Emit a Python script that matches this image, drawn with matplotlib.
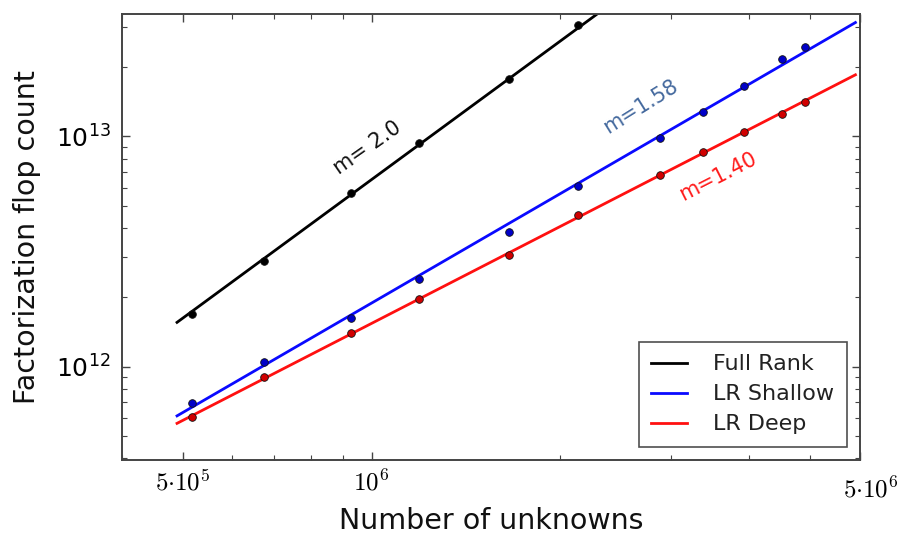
import numpy as np
import matplotlib
matplotlib.use("Agg")
import matplotlib.pyplot as plt
from matplotlib.ticker import FixedLocator, LogLocator, NullFormatter

# ---- data ----
n_full = [5.17e5, 6.75e5, 9.28e5, 1.189e6, 1.655e6, 2.135e6]
flops_full = [1.694e12, 2.870e12, 5.666e12, 9.343e12, 1.769e13, 3.051e13]

n_lr = [5.17e5, 6.75e5, 9.28e5, 1.189e6, 1.655e6, 2.135e6,
        2.886e6, 3.374e6, 3.915e6, 4.506e6, 4.911e6]
flops_shallow = [6.98e11, 1.051e12, 1.633e12, 2.404e12, 3.836e12, 6.113e12,
                 9.82e12, 1.281e13, 1.662e13, 2.171e13, 2.455e13]
flops_deep = [6.06e11, 9.0e11, 1.397e12, 1.969e12, 3.056e12, 4.56e12,
              6.80e12, 8.59e12, 1.049e13, 1.249e13, 1.416e13]

slopes = [2.0, 1.58, 1.40]
series_names = ["Full Rank", "LR Shallow", "LR Deep"]
slope_labels = ["m= 2.0", "m=1.58", "m=1.40"]
fit_range = [4.9e5, 5.9e6]

xtick_vals = [5e5, 1e6, 6e6]
xtick_labels = [r"$5{\cdot}10^{5}$", r"$10^{6}$", r"$5{\cdot}10^{6}$"]

# ---- figure ----
W, H = 904, 535
fig = plt.figure(figsize=(W / 100, H / 100), dpi=100)
ax = fig.add_axes([121.7 / W, 1 - 460 / H, (860 - 121.7) / W, (460 - 14) / H])
ax.set_xscale("log")
ax.set_yscale("log")

colors = ["#000000", "#0a0aff", "#ff1010"]
mcolors = ["#000000", "#0000c8", "#d00000"]
datasets = [(n_full, flops_full), (n_lr, flops_shallow), (n_lr, flops_deep)]

xf = np.logspace(np.log10(fit_range[0]), np.log10(fit_range[1]), 50)
for (x, y), m, c, mc, name in zip(datasets, slopes, colors, mcolors, series_names):
    lx, ly = np.log10(x), np.log10(y)
    b = np.mean(ly - m * lx)
    ax.plot(xf, 10 ** (b + m * np.log10(xf)), color=c, lw=2.0, label=name, zorder=2)
    ax.plot(x, y, "o", color=mc, mec="#111111", mew=0.6, ms=5.5, zorder=3)

ax.set_xlim(4.0e5, 6.0e6)
ax.set_ylim(3.94e11, 3.40e13)

# annotations
ann_pos = [(9.865e5, 8.91e12, 35, "#111111"),
           (2.685e6, 1.343e13, 32, "#44699e"),
           (3.558e6, 6.67e12, 27, "#ff1a1a")]
for (xp, yp, rot, col), txt in zip(ann_pos, slope_labels):
    ax.text(xp, yp, txt, rotation=rot, rotation_mode="anchor", ha="center",
            va="center", fontsize=15, color=col)

# ticks
ax.xaxis.set_major_locator(FixedLocator(xtick_vals))
ax.set_xticklabels(xtick_labels[:-1] + [""])
for t in ax.get_xticklabels():
    t.set_math_fontfamily("cm")
    t.set_fontsize(18)
# last tick label sits slightly right of the axis end in the reference
ax.annotate(xtick_labels[-1], xy=(xtick_vals[-1], 0),
            xycoords=("data", "axes fraction"), xytext=(8, -12),
            textcoords="offset points", ha="center", va="top",
            fontsize=18, math_fontfamily="cm", annotation_clip=False)

ax.xaxis.set_minor_locator(LogLocator(base=10, subs=np.arange(2, 10)))
ax.xaxis.set_minor_formatter(NullFormatter())
ax.yaxis.set_minor_formatter(NullFormatter())
ax.tick_params(axis="both", which="both", direction="in", top=True, right=True,
               color="#444444")
ax.tick_params(axis="both", which="major", length=6, width=1.0)
ax.tick_params(axis="both", which="minor", length=3.5, width=0.8)
ax.tick_params(axis="y", which="major", labelsize=18, pad=8)
ax.tick_params(axis="x", which="major", pad=7)

for s in ax.spines.values():
    s.set_color("#444444")
    s.set_linewidth(1.4)

ax.set_xlabel("Number of unknowns", fontsize=20.5, color="#111111")
ax.set_ylabel("Factorization flop count", fontsize=20.5, color="#111111")
ax.xaxis.set_label_coords(0.5, -0.105)
ax.yaxis.set_label_coords(-0.109, 0.5)

leg = ax.legend(loc="lower right", fontsize=16, frameon=True, fancybox=False,
                handlelength=1.6, borderpad=0.55, labelspacing=0.45,
                handletextpad=1.2, borderaxespad=0.6)
leg.get_frame().set_edgecolor("#222222")
leg.get_frame().set_linewidth(1.2)
for t in leg.get_texts():
    t.set_color("#222222")

fig.savefig("out.png", dpi=100)
